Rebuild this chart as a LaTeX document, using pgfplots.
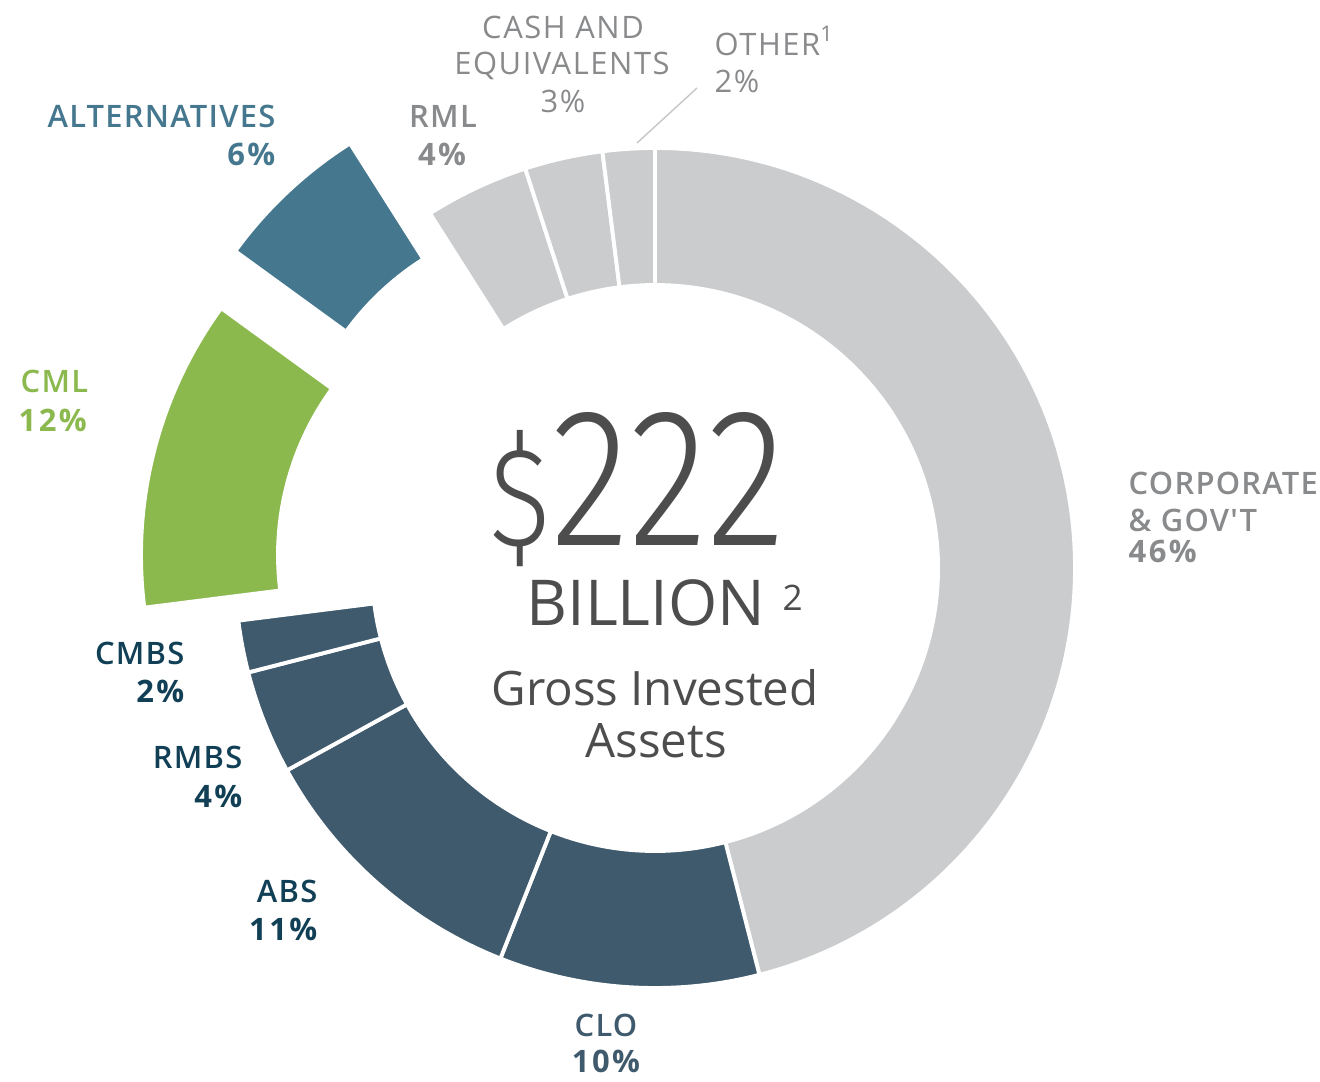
\documentclass[border=0pt]{standalone}
\usepackage{pgfplots}
\pgfplotsset{compat=1.18}
\usepackage{pgfplotstable}
\usepackage{fontspec}
\setmainfont{Open Sans}
\newfontfamily\semib{Open Sans Semibold}[LetterSpace=4]
\newfontfamily\labreg{Open Sans}[LetterSpace=5]
\newfontfamily\labpct{Open Sans}[LetterSpace=8]
\newfontfamily\thinfont{Fira Sans Light}

\definecolor{slgray}{HTML}{CBCCCE}
\definecolor{slnavy}{HTML}{3F5A6D}
\definecolor{slgreen}{HTML}{8BB94E}
\definecolor{slteal}{HTML}{45788F}
\definecolor{txgray}{HTML}{898A8C}
\definecolor{txnavy}{HTML}{113F55}
\definecolor{txcent}{HTML}{4D4D4D}
\definecolor{leader}{HTML}{C6C7C9}

% share in %, offset of pulled-out slices (px), colour; clockwise from 12 o'clock
\pgfplotstableread{
share sdx sdy col
46 0 0 slgray
10 0 0 slnavy
11 0 0 slnavy
4 0 0 slnavy
2 0 0 slnavy
12 -94 13 slgreen
6 -80 70 slteal
4 0 0 slgray
3 0 0 slgray
2 0 0 slgray
}\assets

\tikzset{lab/.style={inner sep=0pt, font=\fontsize{8.8}{10}\selectfont}}
\newcommand\pct[1]{{\labpct\bfseries #1}}

\begin{document}
\begin{tikzpicture}
\begin{axis}[hide axis, scale only axis,
    width=13.2cm, height=10.81cm,
    xmin=0, xmax=1320, ymin=0, ymax=1081, clip=false]

\def\curang{90}
\pgfplotsforeachungrouped \i in {0,...,9}{%
  \pgfplotstablegetelem{\i}{share}\of\assets \let\share\pgfplotsretval
  \pgfplotstablegetelem{\i}{sdx}\of\assets \let\sdx\pgfplotsretval
  \pgfplotstablegetelem{\i}{sdy}\of\assets \let\sdy\pgfplotsretval
  \pgfplotstablegetelem{\i}{col}\of\assets \let\col\pgfplotsretval
  \pgfmathsetmacro\aend{\curang-3.6*\share}
  \pgfmathsetmacro\cx{655+\sdx}
  \pgfmathsetmacro\cy{513+\sdy}
  \edef\doslice{\noexpand\fill[\col, draw=white, line width=1.1pt]
    (axis cs:\cx,\cy) ++(\curang:4.2cm)
    arc[start angle=\curang, end angle=\aend, radius=4.2cm]
    -- ++(\aend:-1.37cm)
    arc[start angle=\aend, end angle=\curang, radius=2.83cm] -- cycle;}%
  \doslice
  \global\let\curang\aend
}

% centre text
\node[inner sep=0pt, anchor=base, text=txcent] at (axis cs:638,536)
  {\scalebox{0.83}[1]{\thinfont\fontsize{40}{40}\selectfont\$\fontsize{56}{56}\selectfont 222}};
\node[inner sep=0pt, anchor=base east, text=txcent] at (axis cs:766,456)
  {\fontsize{18}{18}\selectfont BILLION};
\node[inner sep=0pt, anchor=base west, text=txcent] at (axis cs:782,471)
  {\fontsize{10}{10}\selectfont 2};
\node[inner sep=0pt, anchor=base, text=txcent] at (axis cs:655,376)
  {\fontsize{13.5}{14}\selectfont Gross Invested};
\node[inner sep=0pt, anchor=base, text=txcent] at (axis cs:656,324)
  {\fontsize{13.5}{14}\selectfont Assets};

% slice labels
\node[lab, anchor=base east, text=slteal] at (axis cs:276,954) {\semib ALTERNATIVES};
\node[lab, anchor=base east, text=slteal] at (axis cs:276,916) {\pct{6\%}};
\node[lab, anchor=base, text=txgray] at (axis cs:443,954) {\semib RML};
\node[lab, anchor=base, text=txgray] at (axis cs:442,916) {\pct{4\%}};
\node[lab, anchor=base, text=txgray] at (axis cs:563,1043) {\labreg CASH AND};
\node[lab, anchor=base, text=txgray] at (axis cs:562,1007) {\labreg EQUIVALENTS};
\node[lab, anchor=base, text=txgray] at (axis cs:563,969) {\labreg 3\%};
\node[lab, anchor=base west, text=txgray] at (axis cs:714,1026) {\labreg OTHER\textsuperscript{1}};
\node[lab, anchor=base west, text=txgray] at (axis cs:714,989) {\labreg 2\%};
\draw[leader, line width=0.4pt] (axis cs:637,938) -- (axis cs:697,993);
\node[lab, anchor=base west, text=txgray] at (axis cs:1128,587) {\semib CORPORATE};
\node[lab, anchor=base west, text=txgray] at (axis cs:1128,550) {\semib \& GOV'T};
\node[lab, anchor=base west, text=txgray] at (axis cs:1128,519) {\pct{46\%}};
\node[lab, anchor=base west, text=slgreen] at (axis cs:20,689) {\semib CML};
\node[lab, anchor=base west, text=slgreen] at (axis cs:18,650) {\pct{12\%}};
\node[lab, anchor=base east, text=txnavy] at (axis cs:185,417) {\semib CMBS};
\node[lab, anchor=base east, text=txnavy] at (axis cs:185,379) {\pct{2\%}};
\node[lab, anchor=base east, text=txnavy] at (axis cs:243,313) {\semib RMBS};
\node[lab, anchor=base east, text=txnavy] at (axis cs:243,274) {\pct{4\%}};
\node[lab, anchor=base east, text=txnavy] at (axis cs:318,179) {\semib ABS};
\node[lab, anchor=base east, text=txnavy] at (axis cs:318,141) {\pct{11\%}};
\node[lab, anchor=base, text=slnavy] at (axis cs:606,45) {\semib CLO};
\node[lab, anchor=base, text=slnavy] at (axis cs:606,9) {\pct{10\%}};
\end{axis}
\pgfresetboundingbox
\path (current axis.south west) rectangle (current axis.north east);
\end{tikzpicture}
\end{document}
